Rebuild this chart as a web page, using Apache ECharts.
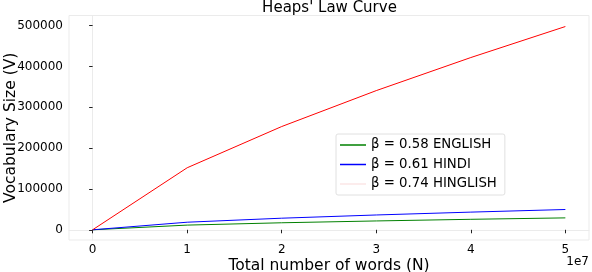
<!DOCTYPE html>
<html><head><meta charset="utf-8">
<script src="https://cdn.jsdelivr.net/npm/echarts@6/dist/echarts.min.js"></script>
<style>html,body{margin:0;padding:0;background:#fff}#c{width:592px;height:272px}</style>
</head><body><div id="c"></div>
<script>
var wordCounts = [0, 1e7, 2e7, 3e7, 4e7, 5e7];
var englishVocab = [0, 11500, 17200, 21700, 25700, 29200];
var hindiVocab = [0, 18600, 28400, 36300, 43300, 49700];
var hinglishVocab = [0, 152000, 253000, 341000, 422000, 498000];
var xTicks = [0, 1e7, 2e7, 3e7, 4e7, 5e7];
var yTicks = [0, 100000, 200000, 300000, 400000, 500000];
var seriesNames = ['\u03b2 = 0.58 ENGLISH', '\u03b2 = 0.61 HINDI', '\u03b2 = 0.74 HINGLISH'];

function pairs(ys){ return wordCounts.map(function(x,i){return [x, ys[i]];}); }
var font = 'DejaVu Sans';
var chart = echarts.init(document.getElementById('c'), null, {renderer:'canvas'});
chart.setOption({
  animation:false,
  textStyle:{fontFamily:font},
  title:{text:"Heaps' Law Curve", left:324.5, textAlign:'center', top:-4,
    textStyle:{fontFamily:font, fontSize:15, fontWeight:'normal', color:'#000'}},
  grid:{left:69, right:3, top:15.5, bottom:32, show:true, borderColor:'#ebebeb', borderWidth:1,
    containLabel:false, outerBoundsMode:'none'},
  legend:{orient:'vertical', left:336, top:134, padding:[3,8,3,4],
    itemWidth:26, itemHeight:1.5, itemGap:3.5, itemTextGap:11, icon:'rect',
    borderColor:'#e0e0e0', borderWidth:1, borderRadius:2, backgroundColor:'#fff',
    textStyle:{fontFamily:font, fontSize:13.3, color:'#000', lineHeight:16},
    data:[{name:seriesNames[0], itemStyle:{color:'#008000'}},
          {name:seriesNames[1], itemStyle:{color:'#0000ff'}},
          {name:seriesNames[2], itemStyle:{color:'#fbe6e6'}}]},
  xAxis:{type:'value', min:-0.25e7, max:5.25e7,
    name:'Total number of words (N)', nameLocation:'middle', nameGap:18, nameMoveOverlap:false,
    nameTextStyle:{fontFamily:font, fontSize:15.5, color:'#000'},
    splitLine:{show:false},
    axisLine:{show:true, lineStyle:{color:'#ebebeb'}},
    axisTick:{show:true, length:3.5, customValues:xTicks, lineStyle:{color:'#222', width:1}},
    axisLabel:{customValues:xTicks, margin:4, fontFamily:font, fontSize:12, color:'#000',
      formatter:function(v){return String(Math.round(v/1e7));}}},
  yAxis:{type:'value', min:-25000, max:525000,
    name:'Vocabulary Size (V)', nameLocation:'middle', nameGap:50, nameMoveOverlap:false,
    nameTextStyle:{fontFamily:font, fontSize:15.5, color:'#000'},
    splitLine:{show:false},
    axisLine:{show:true, lineStyle:{color:'#ebebeb'}},
    axisTick:{show:true, length:3.5, customValues:yTicks, lineStyle:{color:'#222', width:1}},
    axisLabel:{customValues:yTicks, margin:6, fontFamily:font, fontSize:12, color:'#000',
      formatter:function(v){return String(v);}}},
  graphic:[{type:'text', right:3, top:256, style:{text:'1e7', fontFamily:font, fontSize:12, fill:'#000'}}],
  series:[
    {name:seriesNames[0], type:'line', data:pairs(englishVocab), showSymbol:false, lineStyle:{color:'#008000', width:1}, itemStyle:{color:'#008000'}},
    {name:seriesNames[1], type:'line', data:pairs(hindiVocab), showSymbol:false, lineStyle:{color:'#0000ff', width:1}, itemStyle:{color:'#0000ff'}},
    {name:seriesNames[2], type:'line', data:pairs(hinglishVocab), showSymbol:false, lineStyle:{color:'#ff0000', width:1}, itemStyle:{color:'#ff0000'}}
  ]
});
</script></body></html>
